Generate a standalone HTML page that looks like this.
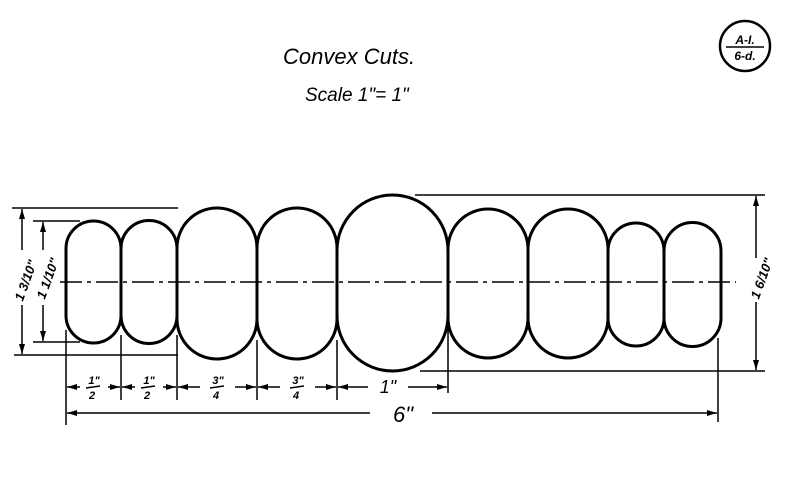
<!DOCTYPE html>
<html><head><meta charset="utf-8"><style>
html,body{margin:0;padding:0;background:#fff;}
svg{display:block;}
text{font-family:"Liberation Sans",sans-serif;font-style:italic;fill:#000;}
</style></head><body>
<svg width="800" height="478" viewBox="0 0 800 478" xmlns="http://www.w3.org/2000/svg">
<defs>
<marker id="a" markerWidth="10" markerHeight="6" refX="10" refY="3" orient="auto" markerUnits="userSpaceOnUse">
<path d="M0,0 L10,3 L0,6 Z" fill="#000"/></marker>
</defs>
<text x="283" y="64" font-size="22">Convex Cuts.</text>
<text x="305" y="101" font-size="19">Scale 1"= 1"</text>
<circle cx="745" cy="46" r="25" fill="none" stroke="#000" stroke-width="2.5"/>
<text x="745" y="44" font-size="12" text-anchor="middle" font-weight="bold">A-I.</text>
<line x1="726" y1="47" x2="764" y2="47" stroke="#000" stroke-width="1.5"/>
<text x="745" y="60" font-size="12" text-anchor="middle" font-weight="bold">6-d.</text>

<g fill="none" stroke="#000" stroke-width="3">
<path d="M66,248.5 A27.5,27.5 0 0 1 121,248.5 L121,315.5 A27.5,27.5 0 0 1 66,315.5 Z"/>
<path d="M121,248.5 A28,28 0 0 1 177,248.5 L177,315.5 A28,28 0 0 1 121,315.5 Z"/>
<path d="M177,248 A40,40 0 0 1 257,248 L257,319 A40,40 0 0 1 177,319 Z"/>
<path d="M257,248 A40,40 0 0 1 337,248 L337,319 A40,40 0 0 1 257,319 Z"/>
<path d="M337,250.5 A55.5,55.5 0 0 1 448,250.5 L448,315.5 A55.5,55.5 0 0 1 337,315.5 Z"/>
<path d="M448,249 A40,40 0 0 1 528,249 L528,318 A40,40 0 0 1 448,318 Z"/>
<path d="M528,249 A40,40 0 0 1 608,249 L608,318 A40,40 0 0 1 528,318 Z"/>
<path d="M608,251 A28,28 0 0 1 664,251 L664,318 A28,28 0 0 1 608,318 Z"/>
<path d="M664,251 A28.5,28.5 0 0 1 721,251 L721,318 A28.5,28.5 0 0 1 664,318 Z"/>
</g>

<g stroke="#000" stroke-width="1.5" fill="none">
<line x1="60" y1="282" x2="736" y2="282" stroke-dasharray="22,5,4,5"/>
<line x1="12" y1="208" x2="178" y2="208"/>
<line x1="14" y1="355" x2="178" y2="355"/>
<line x1="33" y1="221" x2="80" y2="221"/>
<line x1="33" y1="342" x2="80" y2="342"/>
<line x1="22" y1="250" x2="22" y2="209" marker-end="url(#a)"/>
<line x1="22" y1="305" x2="22" y2="354" marker-end="url(#a)"/>
<line x1="43" y1="250" x2="43" y2="222" marker-end="url(#a)"/>
<line x1="43" y1="305" x2="43" y2="341" marker-end="url(#a)"/>
<line x1="415" y1="195" x2="765" y2="195"/>
<line x1="420" y1="371" x2="765" y2="371"/>
<line x1="756" y1="258" x2="756" y2="196" marker-end="url(#a)"/>
<line x1="756" y1="302" x2="756" y2="370" marker-end="url(#a)"/>
<line x1="66" y1="330" x2="66" y2="425"/>
<line x1="121" y1="335" x2="121" y2="400"/>
<line x1="177" y1="335" x2="177" y2="400"/>
<line x1="257" y1="340" x2="257" y2="400"/>
<line x1="337" y1="340" x2="337" y2="400"/>
<line x1="448" y1="320" x2="448" y2="393"/>
<line x1="718" y1="338" x2="718" y2="422"/>
<line x1="80" y1="387" x2="67" y2="387" marker-end="url(#a)"/>
<line x1="108" y1="387" x2="120" y2="387" marker-end="url(#a)"/>
<line x1="135" y1="387" x2="122" y2="387" marker-end="url(#a)"/>
<line x1="163" y1="387" x2="176" y2="387" marker-end="url(#a)"/>
<line x1="200" y1="387" x2="178" y2="387" marker-end="url(#a)"/>
<line x1="235" y1="387" x2="256" y2="387" marker-end="url(#a)"/>
<line x1="280" y1="387" x2="258" y2="387" marker-end="url(#a)"/>
<line x1="315" y1="387" x2="336" y2="387" marker-end="url(#a)"/>
<line x1="368" y1="387" x2="338" y2="387" marker-end="url(#a)"/>
<line x1="408" y1="387" x2="447" y2="387" marker-end="url(#a)"/>
<line x1="370" y1="413" x2="67" y2="413" marker-end="url(#a)"/>
<line x1="432" y1="413" x2="717" y2="413" marker-end="url(#a)"/>
</g>

<g font-weight="bold" font-size="11" text-anchor="middle">
<text x="94" y="384">1"</text><text x="92" y="399">2</text>
<text x="149" y="384">1"</text><text x="147" y="399">2</text>
<text x="218" y="384">3"</text><text x="216" y="399">4</text>
<text x="298" y="384">3"</text><text x="296" y="399">4</text>
<line x1="86" y1="388" x2="100" y2="386" stroke="#000" stroke-width="1.5"/>
<line x1="141" y1="388" x2="155" y2="386" stroke="#000" stroke-width="1.5"/>
<line x1="210" y1="388" x2="224" y2="386" stroke="#000" stroke-width="1.5"/>
<line x1="290" y1="388" x2="304" y2="386" stroke="#000" stroke-width="1.5"/>
</g>
<text x="388" y="393" font-size="18" text-anchor="middle">1"</text>
<text x="403" y="422" font-size="22" text-anchor="middle">6"</text>
<text font-size="13" font-weight="bold" transform="translate(30,282) rotate(-70)" text-anchor="middle">1 3/10"</text>
<text font-size="13" font-weight="bold" transform="translate(52,280) rotate(-70)" text-anchor="middle">1 1/10"</text>
<text font-size="13" font-weight="bold" transform="translate(766,280) rotate(-70)" text-anchor="middle">1 6/10"</text>
</svg>
</body></html>
